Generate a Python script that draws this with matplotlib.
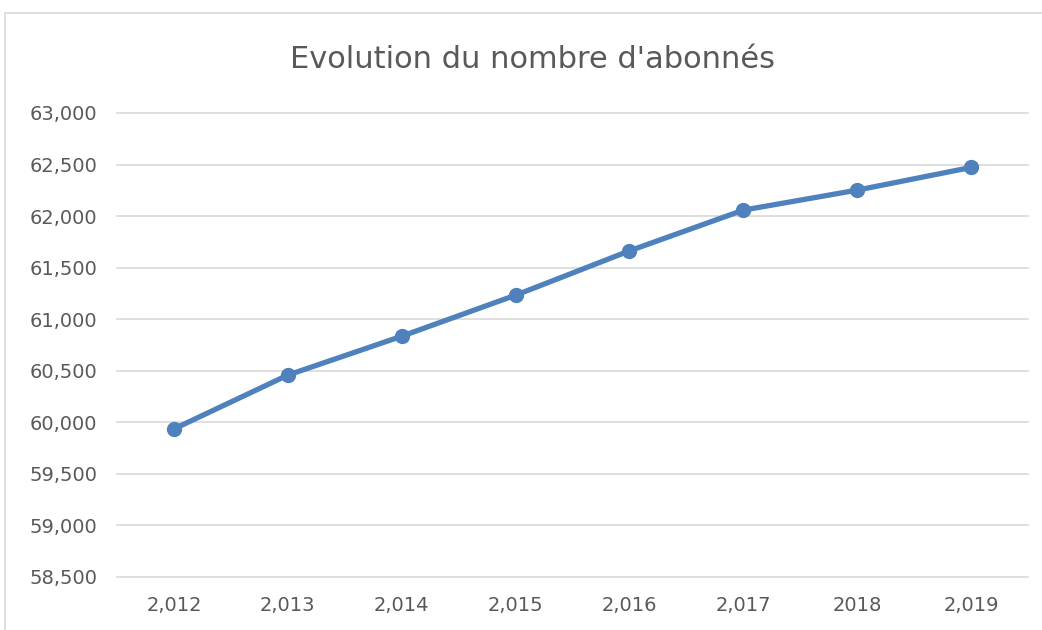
import matplotlib
matplotlib.use("Agg")
from matplotlib import pyplot as plt
from matplotlib.patches import Rectangle
from matplotlib.ticker import FuncFormatter

plt.rcParams['font.family'] = ['DejaVu Sans']

# data
years = [2012, 2013, 2014, 2015, 2016, 2017, 2018, 2019]
year_labels = ['2,012', '2,013', '2,014', '2,015', '2,016', '2,017', '2018', '2,019']
subscribers = [59936, 60458, 60835, 61233, 61663, 62058, 62252, 62472]

title = "Evolution du nombre d'abonnés"
grey = '#595959'

fig = plt.figure(figsize=(10.42, 6.3), dpi=100)
ax = fig.add_axes([117/1042, 1 - 577/630, (1028 - 117)/1042, (577 - 113)/630])

x = list(range(len(years)))
ax.plot(x, subscribers, color='#4F81BD', linewidth=3.8, marker='o',
        markersize=10, solid_capstyle='round', zorder=3)

ax.set_xlim(-0.5, len(years) - 0.5)
ax.set_ylim(58500, 63000)
ax.set_yticks(range(58500, 63001, 500))
ax.yaxis.set_major_formatter(FuncFormatter(lambda v, p: '{:,.0f}'.format(v)))
ax.set_xticks(x)
ax.set_xticklabels(year_labels)

ax.grid(axis='y', color='#D9D9D9', linewidth=1.2)
for gl in ax.get_ygridlines():
    gl.set_clip_on(False)
ax.set_axisbelow(True)
for s in ax.spines.values():
    s.set_visible(False)
ax.tick_params(axis='both', length=0, colors=grey, labelsize=14)
ax.tick_params(axis='y', pad=14)
ax.tick_params(axis='x', pad=14)

fig.text(533/1042, 1 - 60/630, title, ha='center', va='center',
         fontsize=22, color=grey)

# chart area border
fig.patches.append(Rectangle((5/1042, -0.05), 1.1, 1 - 13/630 + 0.05,
                             transform=fig.transFigure, fill=False,
                             edgecolor='#D9D9D9', linewidth=1.2))

fig.savefig('out.png', dpi=100)
